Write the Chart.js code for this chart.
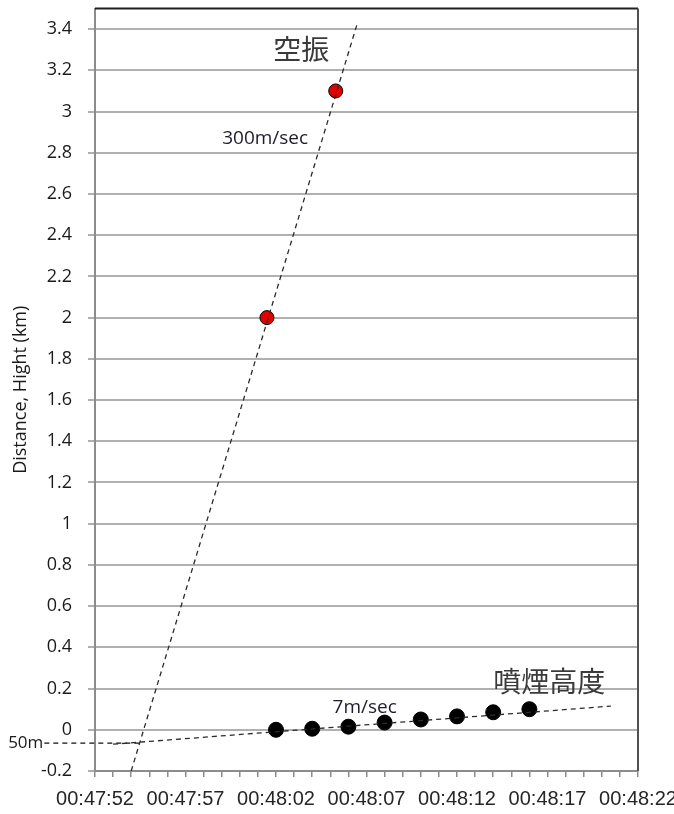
<!DOCTYPE html>
<html>
<head>
<meta charset="utf-8">
<script src="https://cdn.jsdelivr.net/npm/chart.js@4.4.1/dist/chart.umd.min.js"></script>
<style>
  html, body { margin: 0; padding: 0; background: #ffffff; }
  canvas { display: block; }
</style>
</head>
<body>
<canvas id="chart" width="674" height="814"></canvas>
<script>
// Time axis tick labels (every 5 s)
const xTickLabels = ['00:47:52', '00:47:57', '00:48:02', '00:48:07', '00:48:12', '00:48:17', '00:48:22'];

// Eruption plume height observations (km)
const smokeTimes = ['00:48:02', '00:48:04', '00:48:06', '00:48:08', '00:48:10', '00:48:12', '00:48:14', '00:48:16'];
const smokeHeights = [0, 0.005, 0.015, 0.035, 0.05, 0.065, 0.085, 0.1];

// Air-vibration (infrasound) arrival distances (km)
const airTimes = ['00:48:01.5', '00:48:05.3'];
const airDistances = [2.0, 3.1];

// Fitted propagation lines
const airTrendTimes = ['00:47:54', '00:48:06.5'];
const airTrendValues = [-0.2, 3.43];          // ~300 m/sec
const smokeTrendTimes = ['00:47:53', '00:48:20.5'];
const smokeTrendValues = [-0.07, 0.115];      // ~7 m/sec
const baseTimes = ['00:47:49.2', '00:47:54.5'];
const baseValues = [-0.065, -0.065];          // 50 m reference level

function toSec(t) {
  const p = t.split(':').map(Number);
  return p[0] * 3600 + p[1] * 60 + p[2];
}
function pad2(n) { return (n < 10 ? '0' : '') + n; }
function fmtTime(s) {
  const h = Math.floor(s / 3600), m = Math.floor((s % 3600) / 60), sec = Math.round(s % 60);
  return pad2(h) + ':' + pad2(m) + ':' + pad2(sec);
}
function pts(times, vals) { return times.map((t, i) => ({ x: toSec(t), y: vals[i] })); }

const xMin = toSec(xTickLabels[0]);
const xMax = toSec(xTickLabels[xTickLabels.length - 1]);
const labelSet = new Set(xTickLabels.map(toSec));

const dashStyle = {
  type: 'line', showLine: true, fill: false, pointRadius: 0, pointHoverRadius: 0,
  borderColor: '#2b2b2b', borderWidth: 1.3, borderDash: [5, 4], tension: 0
};

// Text annotations placed in data coordinates
const notes = [
  { text: '空振', t: '00:48:03.4', v: 3.30, font: '28px "Noto Sans CJK JP"', color: '#3a3a3a' },
  { text: '300m/sec', t: '00:48:01.4', v: 2.87, font: '19px "Open Sans"', color: '#1c1c2c' },
  { text: '7m/sec', t: '00:48:06.9', v: 0.107, font: '19px "Open Sans"', color: '#1c1c2c' },
  { text: '噴煙高度', t: '00:48:17.1', v: 0.236, font: '28px "Noto Sans CJK JP"', color: '#3a3a3a' }
];

const decorPlugin = {
  id: 'decor',
  afterDatasetsDraw(chart) {
    const { ctx, chartArea: a, scales: { x, y } } = chart;
    ctx.save();
    // top and right frame
    ctx.lineWidth = 2;
    ctx.strokeStyle = '#1e1e1e';
    ctx.beginPath();
    ctx.moveTo(a.left, a.top);
    ctx.lineTo(a.right, a.top);
    ctx.stroke();
    ctx.strokeStyle = '#505050';
    ctx.beginPath();
    ctx.moveTo(a.right, a.top);
    ctx.lineTo(a.right, a.bottom);
    ctx.stroke();
    // notes
    ctx.textAlign = 'center';
    ctx.textBaseline = 'middle';
    notes.forEach(n => {
      ctx.font = n.font;
      ctx.fillStyle = n.color;
      ctx.fillText(n.text, x.getPixelForValue(toSec(n.t)), y.getPixelForValue(n.v));
    });
    // 50m reference label
    ctx.font = '17px "Open Sans"';
    ctx.fillStyle = '#1a1a1a';
    ctx.textAlign = 'right';
    ctx.fillText('50m', x.getPixelForValue(toSec(baseTimes[0])) - 1, y.getPixelForValue(baseValues[0]));
    ctx.restore();
  }
};

new Chart(document.getElementById('chart'), {
  type: 'scatter',
  data: {
    datasets: [
      Object.assign({ data: pts(airTrendTimes, airTrendValues) }, dashStyle),
      Object.assign({ data: pts(smokeTrendTimes, smokeTrendValues) }, dashStyle),
      Object.assign({ data: pts(baseTimes, baseValues), clip: false }, dashStyle, { borderColor: '#111111' }),
      {
        data: pts(airTimes, airDistances),
        pointRadius: 7, pointBackgroundColor: '#e00000', pointBorderColor: '#000000', pointBorderWidth: 1
      },
      {
        data: pts(smokeTimes, smokeHeights),
        pointRadius: 7.5, pointBackgroundColor: '#000000', pointBorderColor: '#000000', pointBorderWidth: 1
      }
    ]
  },
  options: {
    responsive: false,
    animation: false,
    events: [],
    layout: { padding: { left: 0, top: 8, right: 36, bottom: 0 } },
    plugins: { legend: { display: false }, tooltip: { enabled: false } },
    scales: {
      x: {
        type: 'linear',
        min: xMin, max: xMax,
        afterFit(s) { s.height = 43; s.paddingLeft = 0; s.paddingRight = 0; },
        border: { display: true, color: '#8c8c8c', width: 2 },
        grid: { drawOnChartArea: false, drawTicks: true, tickLength: 6, color: '#8c8c8c', lineWidth: 1.5 },
        ticks: {
          stepSize: 1, autoSkip: false, maxRotation: 0, padding: 10,
          font: { family: 'Liberation Sans', size: 20 }, color: '#262626',
          callback: v => labelSet.has(v) ? fmtTime(v) : ''
        }
      },
      y: {
        min: -0.2, max: 3.5,
        afterFit(s) { s.width = 95; s.paddingTop = 0; s.paddingBottom = 0; },
        border: { display: true, color: '#8c8c8c', width: 2 },
        grid: {
          color: c => (c.tick && c.tick.value > 3.45) ? 'rgba(0,0,0,0)' : '#b0b0b0',
          lineWidth: 2, tickLength: 7
        },
        ticks: {
          stepSize: 0.1, autoSkip: false, padding: 16,
          font: { family: 'Open Sans', size: 18 }, color: '#1a1a1a',
          callback: v => {
            const r = Math.round(v * 10);
            if (r % 2 !== 0 || r > 34) return null;
            return String(r / 10);
          }
        },
        title: {
          display: true, text: 'Distance, Hight (km)',
          font: { family: 'Open Sans', size: 18 }, color: '#1a1a1a',
          padding: { top: 10, bottom: 0 }
        }
      }
    }
  },
  plugins: [decorPlugin]
});
</script>
</body>
</html>
